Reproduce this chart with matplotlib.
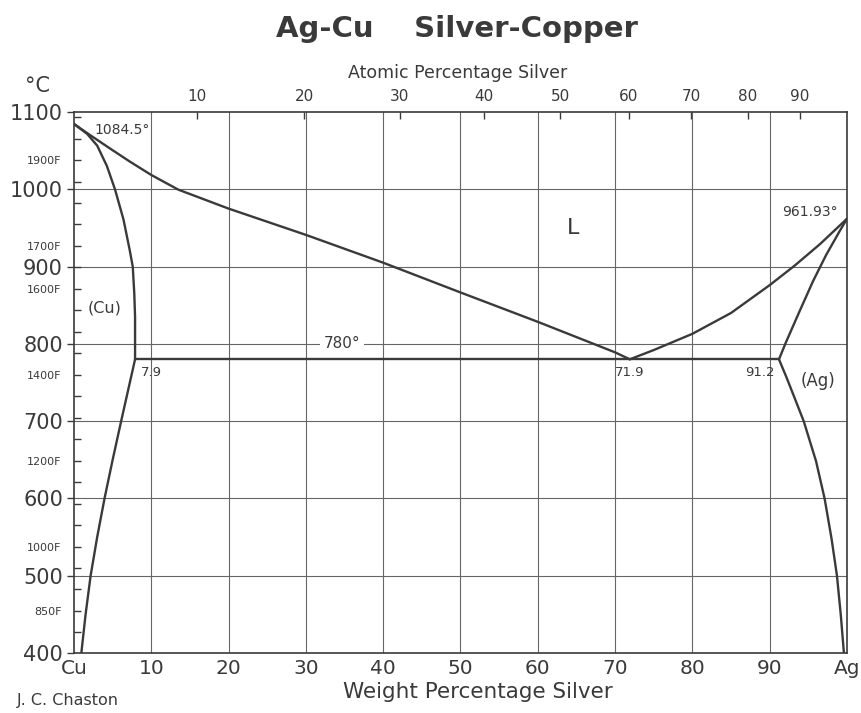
import matplotlib
matplotlib.use("Agg")
import matplotlib.pyplot as plt
from matplotlib.ticker import FixedLocator, FuncFormatter
import numpy as np

# ---- phase boundaries (weight % Ag, temperature °C) ----
liq_cu_wt = [0, 2.1, 4.7, 7.2, 10.0, 13.5, 20, 25, 30, 35, 40, 50, 60, 70, 71.9]
liq_cu_T = [1084.5, 1070, 1052.5, 1036, 1018.5, 999.5, 975, 958, 941, 923, 905,
            866.5, 828.5, 789, 780]

sol_cu_wt = [0, 1.7, 3.0, 4.26, 5.3, 6.4, 7.2, 7.6, 7.8, 7.9, 7.9]
sol_cu_T = [1084.5, 1071.7, 1056.5, 1030, 1000, 961, 921.7, 900, 865, 835, 780]

solv_cu_wt = [7.9, 7.0, 6.1, 5.0, 3.95, 3.0, 2.15, 1.5, 0.95]
solv_cu_T = [780, 740, 700, 650, 600, 550, 500, 450, 400]

liq_ag_wt = [71.9, 75, 80, 85, 90, 93.2, 96.5, 100]
liq_ag_T = [780, 792, 813, 840, 876, 901, 929, 961.93]

sol_ag_wt = [91.2, 92.1, 93.9, 95.6, 97.3, 99.0, 100]
sol_ag_T = [780, 802, 843, 881, 915, 945, 961.93]

solv_ag_wt = [91.2, 92.2, 94.4, 96.0, 97.1, 98.0, 98.7, 99.2, 99.6]
solv_ag_T = [780, 756, 700, 648, 600, 548, 500, 449, 400]

eutectic_T = 780
eutectic_wt = [7.9, 91.2]

# axis ticks
c_ticks = [400, 500, 600, 700, 800, 900, 1000, 1100]
wt_ticks = [0, 10, 20, 30, 40, 50, 60, 70, 80, 90, 100]
wt_labels = ["Cu", "10", "20", "30", "40", "50", "60", "70", "80", "90", "Ag"]
at_ticks = [10, 20, 30, 40, 50, 60, 70, 80, 90]
f_ticks = list(range(800, 2001, 50))
f_labelled = [850, 1000, 1200, 1400, 1600, 1700, 1900]

M_AG, M_CU = 107.87, 63.546

INK = "#3a3a3a"
GRID = "#666666"


def wt_to_at(w):
    w = np.clip(np.asarray(w, dtype=float), 1e-9, 100 - 1e-9)
    n_ag = w / M_AG
    n_cu = (100 - w) / M_CU
    return 100 * n_ag / (n_ag + n_cu)


def at_to_wt(a):
    a = np.clip(np.asarray(a, dtype=float), 1e-9, 100 - 1e-9)
    m_ag = a * M_AG
    m_cu = (100 - a) * M_CU
    return 100 * m_ag / (m_ag + m_cu)


def f_to_c(f):
    return (np.asarray(f, dtype=float) - 32) * 5 / 9


W, H = 862, 713
plt.rcParams["font.family"] = ["DejaVu Sans"]
fig = plt.figure(figsize=(W / 100, H / 100), dpi=100)
ax = fig.add_axes([74 / W, 1 - 653 / H, (847 - 74) / W, (653 - 112) / H])
ax.set_xlim(0, 100)
ax.set_ylim(400, 1100)

# grid
for x in wt_ticks[1:-1]:
    ax.axvline(x, color=GRID, lw=0.8, zorder=1)
for y in c_ticks[1:-1]:
    ax.axhline(y, color=GRID, lw=0.8, zorder=1)

# phase boundaries
kw = dict(color=INK, lw=1.7, zorder=3, solid_joinstyle="round",
          solid_capstyle="round")
ax.plot(liq_cu_wt, liq_cu_T, **kw)
ax.plot(sol_cu_wt, sol_cu_T, **kw)
ax.plot(solv_cu_wt, solv_cu_T, **kw)
ax.plot(liq_ag_wt, liq_ag_T, **kw)
ax.plot(sol_ag_wt, sol_ag_T, **kw)
ax.plot(solv_ag_wt, solv_ag_T, **kw)
ax.plot(eutectic_wt, [eutectic_T, eutectic_T], **kw)

# spines
for s in ax.spines.values():
    s.set_color(INK)
    s.set_linewidth(1.2)

# bottom axis: weight percent
ax.set_xticks(wt_ticks)
ax.set_xticklabels(wt_labels)
ax.tick_params(axis="x", length=0, pad=4, labelsize=14.5, labelcolor=INK)

# left axis: Celsius major, Fahrenheit minor
ax.set_yticks(c_ticks)
ax.tick_params(axis="y", which="major", direction="out", length=5, width=1,
               color=INK, pad=3, labelsize=15, labelcolor=INK)
ax.yaxis.set_minor_locator(FixedLocator(f_to_c(f_ticks)))


def f_fmt(v, pos):
    f = f_ticks[pos] if pos is not None and pos < len(f_ticks) else None
    return f"{f}F" if f in f_labelled else ""


ax.yaxis.set_minor_formatter(FuncFormatter(f_fmt))
ax.tick_params(axis="y", which="minor", direction="in", length=5, width=1,
               color=INK, pad=9, labelsize=8, labelcolor=INK)

# top axis: atomic percent
sec = ax.secondary_xaxis("top", functions=(wt_to_at, at_to_wt))
sec.set_xticks(at_ticks)
sec.tick_params(direction="in", length=5, width=1, color=INK, pad=6,
                labelsize=11, labelcolor=INK)
sec.spines["top"].set_visible(False)

# annotations
tk = dict(color=INK, zorder=4)
ax.text(2.6, 1077, "1084.5°", fontsize=10, ha="left", va="center", **tk)
ax.text(98.8, 970, "961.93°", fontsize=10, ha="right", va="center", **tk)
ax.text(64.6, 950, "L", fontsize=16, ha="center", va="center", **tk)
ax.text(3.9, 846, "(Cu)", fontsize=11.5, ha="center", va="center", **tk)
ax.text(96.2, 752, "(Ag)", fontsize=12, ha="center", va="center", **tk)
ax.text(8.7, 763, "7.9", fontsize=9.5, ha="left", va="center", **tk)
ax.text(70.0, 763, "71.9", fontsize=9.5, ha="left", va="center", **tk)
ax.text(86.8, 763, "91.2", fontsize=9.5, ha="left", va="center", **tk)
ax.text(34.7, 800, "780°", fontsize=11, ha="center", va="center",
        bbox=dict(fc="white", ec="none", pad=2.5), **tk)


# figure texts
def ftext(x, y, s, **k):
    fig.text(x / W, 1 - y / H, s, color=INK, **k)


ftext(457, 29, "Ag-Cu    Silver-Copper", fontsize=21, fontweight="bold",
      ha="center", va="center")
ftext(458, 73, "Atomic Percentage Silver", fontsize=12.5, ha="center", va="center")
ftext(478, 692, "Weight Percentage Silver", fontsize=15.5, ha="center", va="center")
ftext(38, 86, "°C", fontsize=15, ha="center", va="center")
ftext(17, 700, "J. C. Chaston", fontsize=11.5, ha="left", va="center")

fig.savefig("out.png", dpi=100, facecolor="white")
